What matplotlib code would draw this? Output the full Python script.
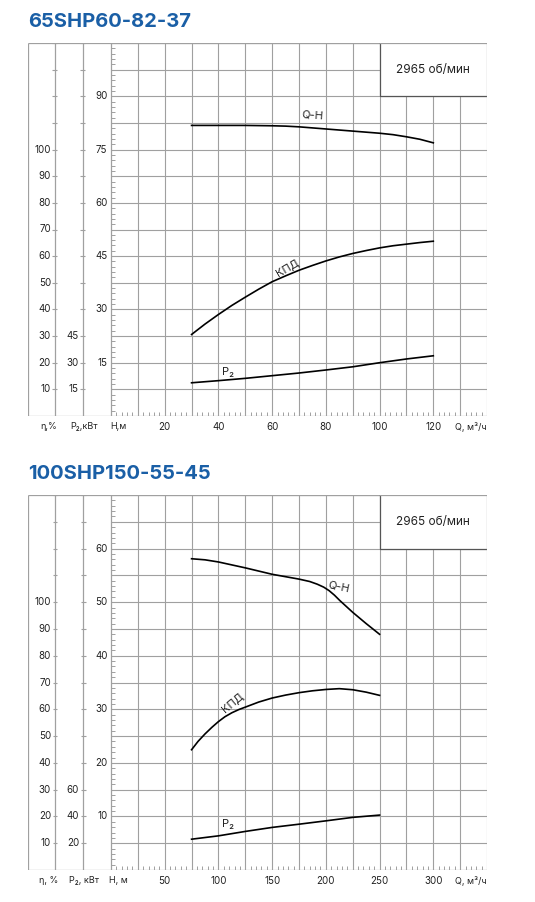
import matplotlib.pyplot as plt
from matplotlib.patches import Rectangle
import numpy as np

plt.rcParams['font.family'] = ['Inter', 'Lato', 'DejaVu Sans']

W, H = 535, 902

# 65SHP60-82-37
q1 = [30, 40, 50, 60, 65, 70, 75, 80, 85, 90, 95, 100, 105, 110, 115, 120]
h1 = [81.8, 81.8, 81.8, 81.7, 81.6, 81.4, 81.1, 80.8, 80.5, 80.2, 79.9, 79.6,
      79.2, 78.6, 77.9, 76.9]
q1e = [30, 35, 40, 45, 50, 55, 60, 65, 70, 75, 80, 85, 90, 95, 100, 105, 110, 115, 120]
eff1 = [30.6, 34.5, 38.1, 41.5, 44.6, 47.6, 50.4, 52.6, 54.7, 56.5, 58.2, 59.7,
        61.0, 62.1, 63.1, 63.9, 64.5, 65.1, 65.6]
q1p = [30, 40, 50, 60, 70, 80, 90, 100, 110, 120]
p1 = [18.7, 19.9, 21.2, 22.7, 24.2, 25.9, 27.7, 30.0, 32.1, 33.9]

# 100SHP150-55-45
q2 = [75, 87.5, 100, 112.5, 125, 137.5, 150, 162.5, 175, 185, 192, 198, 203,
      208, 213, 225, 237.5, 250]
h2 = [58.1, 57.9, 57.5, 56.95, 56.4, 55.8, 55.2, 54.75, 54.3, 53.85, 53.35,
      52.8, 52.15, 51.3, 50.3, 48.1, 46.0, 44.0]
q2e = [75, 81, 87.5, 94, 100, 106, 112.5, 119, 125, 137.5, 150, 162.5, 175,
       187.5, 200, 212.5, 225, 237.5, 250]
eff2 = [44.9, 48.0, 50.8, 53.3, 55.4, 57.2, 58.7, 59.9, 60.8, 62.7, 64.2, 65.3,
        66.2, 66.9, 67.4, 67.7, 67.3, 66.4, 65.2]
q2p = [75, 100, 125, 150, 175, 200, 225, 250]
p2 = [23.0, 25.5, 28.8, 31.8, 34.2, 36.7, 39.3, 41.0]

grid_c = '#a0a0a0'
txt_c = '#222222'

fig = plt.figure(figsize=(W / 100, H / 100), dpi=100)


def draw_chart(top, bot, title, col, row, p_row, h_labels, p_labels, q_labels,
               q, h, qe, eff, qp, p, names, lbl, box_text):
    # px positions: left border 28, eta axis 55, P axis 83, H axis 111, right 487
    ax = fig.add_axes([28 / W, 1 - bot / H, (487 - 28) / W, (bot - top) / H])
    dx = 14 * col / (487 - 111)
    dy = 14 * row / (bot - top)
    xl, xe, xp = -(111 - 28) * dx, -(111 - 55) * dx, -(111 - 83) * dx
    ax.set_xlim(xl, 14 * col)
    ax.set_ylim(0, 14 * row)
    ax.axis('off')

    # grid
    ax.vlines(np.arange(1, 15) * col, 0, 14 * row, color=grid_c, lw=0.8)
    ax.hlines(np.arange(1, 15) * row, 0, 14 * col, color=grid_c, lw=0.8)
    ax.vlines([xl, xe, xp, 0], 0, 14 * row, color=grid_c, lw=0.9)
    ax.hlines([0, 14 * row], xl, 14 * col, color=grid_c, lw=0.9)

    # ticks
    ys = np.arange(1, 15) * row
    ax.hlines(ys, xe - 2.5 * dx, xe + 2.5 * dx, color=grid_c, lw=0.8)
    ax.hlines(ys, xp - 2.5 * dx, xp + 2.5 * dx, color=grid_c, lw=0.8)
    ax.hlines(np.arange(0, 71) * row / 5, 0, 4 * dx, color=grid_c, lw=0.7)
    ax.vlines(np.arange(0, 71) * col / 5, 0, 4 * dy, color=grid_c, lw=0.7)

    # tick labels
    for i, v in enumerate(range(10, 101, 10)):
        ax.text(xe - 4 * dx, (i + 1) * row, str(v), ha='right', va='center',
                fontsize=7, color=txt_c)
    for i, v in enumerate(p_labels):
        ax.text(xp - 4 * dx, (i + 1) * row, str(v), ha='right', va='center',
                fontsize=7, color=txt_c)
    for v in h_labels:
        ax.text(-3.5 * dx, v, str(v), ha='right', va='center',
                fontsize=7, color=txt_c)
    for v in q_labels:
        ax.text(v, -10.5 * dy, str(v), ha='center', va='center',
                fontsize=7, color=txt_c)
    ax.text(14 * col, -10.5 * dy, 'Q, м³/ч', ha='right', va='center',
            fontsize=6.5, color=txt_c)
    for x_px, s in zip([49, 84, 118], names):
        ax.text((x_px - 111) * dx, -10.5 * dy, s, ha='center', va='center',
                fontsize=6.5, color=txt_c)

    # speed box
    ax.add_patch(Rectangle((10 * col, 12 * row), 4 * col, 2 * row,
                           facecolor='white', edgecolor='none', zorder=2))
    ax.plot([10 * col, 10 * col, 14 * col], [14 * row, 12 * row, 12 * row],
            color='#555555', lw=0.9, zorder=3)
    ax.plot([10 * col, 14 * col, 14 * col], [14 * row, 14 * row, 12 * row],
            color=grid_c, lw=0.9, zorder=3)
    ax.text(12 * col, 13 * row, box_text, ha='center', va='center',
            fontsize=8.5, color=txt_c, zorder=4)

    # curves
    ax.plot(q, h, color='black', lw=1.2, zorder=5)
    ax.plot(qe, np.array(eff) * row / 10, color='black', lw=1.2, zorder=5)
    ax.plot(qp, np.array(p) * row / p_row, color='black', lw=1.2, zorder=5)
    for (x, y, rot), s in zip(lbl, ['Q-H', 'КПД', 'P₂']):
        ax.text(x, y, s, ha='center', va='center', rotation=rot,
                fontsize=8, color=txt_c, zorder=6)

    fig.text(28 / W, 1 - (top - 21) / H, title, ha='left', va='center',
             fontsize=14.5, fontweight='bold', color='#1a5fa6')


draw_chart(43, 416, '65SHP60-82-37', 10, 7.5, 15,
           [15, 30, 45, 60, 75, 90], [15, 30, 45], [20, 40, 60, 80, 100, 120],
           q1, h1, q1e, eff1, q1p, p1,
           ['η,%', 'P₂,кВт', 'H,м'],
           [(75, 84.7, -4), (65.5, 41.9, 30), (43.6, 12.4, 0)],
           '2965 об/мин')

draw_chart(495, 870, '100SHP150-55-45', 25, 5, 20,
           [10, 20, 30, 40, 50, 60], [20, 40, 60], [50, 100, 150, 200, 250, 300],
           q2, h2, q2e, eff2, q2p, p2,
           ['η, %', 'P₂, кВт', 'H, м'],
           [(212, 52.8, -12), (112.6, 31.3, 40), (109, 8.6, 0)],
           '2965 об/мин')

fig.savefig('out.png', dpi=100)
